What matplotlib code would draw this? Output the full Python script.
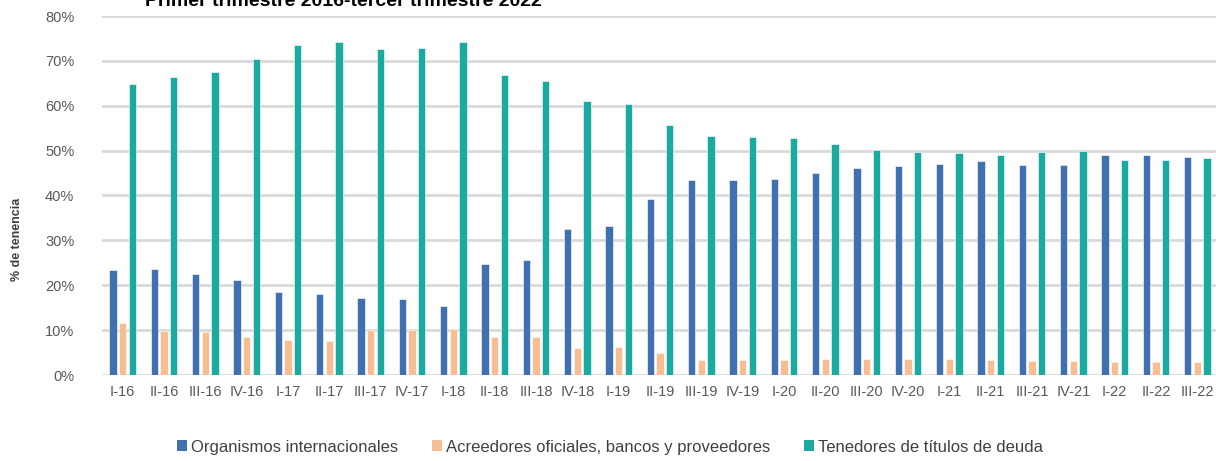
import matplotlib
matplotlib.use("Agg")
import matplotlib.pyplot as plt
import numpy as np
from matplotlib.ticker import PercentFormatter
from matplotlib.patches import Patch

quarters = ['I-16', 'II-16', 'III-16', 'IV-16', 'I-17', 'II-17', 'III-17', 'IV-17',
            'I-18', 'II-18', 'III-18', 'IV-18', 'I-19', 'II-19', 'III-19', 'IV-19',
            'I-20', 'II-20', 'III-20', 'IV-20', 'I-21', 'II-21', 'III-21', 'IV-21',
            'I-22', 'II-22', 'III-22']

organismos = [23.4, 23.7, 22.6, 21.1, 18.5, 18.1, 17.1, 16.9, 15.3, 24.8, 25.7, 32.6,
              33.3, 39.3, 43.4, 43.4, 43.6, 45.0, 46.2, 46.6, 47.0, 47.6, 46.9, 46.8,
              49.1, 49.1, 48.5]
acreedores = [11.6, 9.9, 9.6, 8.4, 7.8, 7.6, 10.1, 10.0, 10.2, 8.4, 8.5, 6.1,
              6.2, 4.8, 3.3, 3.4, 3.4, 3.5, 3.5, 3.5, 3.5, 3.3, 3.1, 3.2,
              2.9, 2.9, 3.0]
tenedores = [64.8, 66.3, 67.6, 70.4, 73.5, 74.1, 72.6, 72.8, 74.2, 66.8, 65.6, 61.1,
             60.3, 55.7, 53.2, 53.0, 52.9, 51.5, 50.2, 49.8, 49.5, 49.0, 49.8, 49.9,
             47.8, 47.9, 48.4]

series = ['Organismos internacionales', 'Acreedores oficiales, bancos y proveedores',
          'Tenedores de títulos de deuda']
colors = ['#4070B0', '#F7BE93', '#1BAA9F']

tick_font = ['Liberation Sans Narrow', 'Liberation Sans', 'DejaVu Sans']
gray = '#595959'

fig = plt.figure(figsize=(12.16, 4.61), dpi=100)
ax = fig.add_axes([102 / 1216, 86 / 461, 1116 / 1216, 359 / 461])

x = np.arange(len(quarters))
w = 0.18
step = 0.235
for i, (vals, c) in enumerate(zip([organismos, acreedores, tenedores], colors)):
    ax.bar(x + (i - 1) * step, vals, width=w, color=c, edgecolor='white',
           linewidth=0.4, zorder=3)

ax.set_xlim(-0.5, len(quarters) - 0.5)
ax.set_ylim(0, 80)
ax.set_yticks(np.arange(0, 81, 10))
ax.yaxis.set_major_formatter(PercentFormatter(decimals=0))
ax.grid(axis='y', color='#D9D9D9', linewidth=2, zorder=0)
ax.set_axisbelow(True)
for s in ax.spines.values():
    s.set_visible(False)
ax.set_xticks(x)
ax.set_xticklabels(quarters)
ax.tick_params(axis='both', length=0, labelsize=10.5, labelcolor=gray)
ax.tick_params(axis='y', pad=20)
ax.tick_params(axis='x', pad=7)
for lab in ax.get_xticklabels() + ax.get_yticklabels():
    lab.set_family(tick_font)

fig.text(17 / 1216, 1 - 239 / 461, '% de tenencia', rotation=90, ha='center', va='center',
         fontsize=9, fontweight='bold', color='#404040', family=tick_font)

# title is cut by the top edge, as in the source image
fig.text(343 / 1216, 1 - 2 / 461, 'Primer trimestre 2016-tercer trimestre 2022',
         ha='center', va='center', fontsize=14, fontweight='bold', color='black',
         family=tick_font)

handles = [Patch(facecolor=c, edgecolor='none') for c in colors]
fig.legend(handles, series, loc='center', bbox_to_anchor=(610 / 1216, 1 - 447 / 461),
           ncol=3, frameon=False, handlelength=0.6, handleheight=0.6,
           handletextpad=0.25, columnspacing=2.0, labelcolor='#404040',
           prop={'family': tick_font, 'size': 12})

fig.savefig('out.png', dpi=100)
